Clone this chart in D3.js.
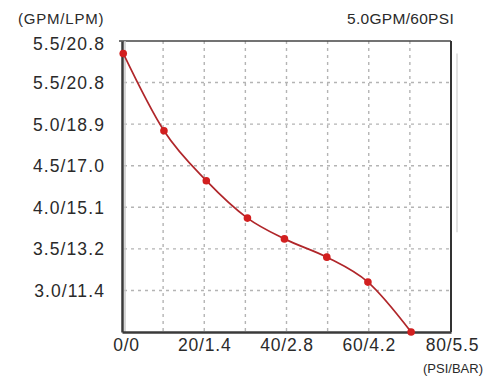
<!DOCTYPE html>
<html><head><meta charset="utf-8">
<script src="https://cdn.jsdelivr.net/npm/d3@7"></script>
<style>
html,body{margin:0;padding:0;background:#fff;}
svg{display:block;}
</style></head>
<body>
<svg id="c" width="486" height="379"></svg>
<script>
// Data
const psi = [0.3, 10.2, 20.5, 30.5, 39.5, 49.8, 59.8, 70.3];
const gpm = [5.85, 4.92, 4.32, 3.87, 3.62, 3.40, 3.10, 2.50];
const xTickValues = [0, 20, 40, 60, 80];
const xTickLabels = ["0/0", "20/1.4", "40/2.8", "60/4.2", "80/5.5"];
const yTickValues = [6.0, 5.5, 5.0, 4.5, 4.0, 3.5, 3.0];
const yTickLabels = ["5.5/20.8", "5.5/20.8", "5.0/18.9", "4.5/17.0", "4.0/15.1", "3.5/13.2", "3.0/11.4"];
const xGrid = [10, 20, 30, 40, 50, 60, 70];
const yGrid = [3.0, 3.5, 4.0, 4.5, 5.0, 5.5];

const svg = d3.select("#c");
const x = d3.scaleLinear().domain([0, 80]).range([122, 451]);
const y = d3.scaleLinear().domain([2.5, 6.0]).range([332, 41]);
const font = "Liberation Sans, Arial, sans-serif";

// grid
svg.append("g").selectAll("line").data(xGrid).join("line")
  .attr("x1", d => x(d)).attr("x2", d => x(d))
  .attr("y1", y(6.0)).attr("y2", y(2.5))
  .attr("stroke", "#b4b4b4").attr("stroke-width", 1.4).attr("stroke-dasharray", "3,4");
svg.append("g").selectAll("line").data(yGrid).join("line")
  .attr("x1", x(0) + 2).attr("x2", x(80))
  .attr("y1", d => y(d)).attr("y2", d => y(d))
  .attr("stroke", "#b4b4b4").attr("stroke-width", 1.4).attr("stroke-dasharray", "3,4");

// frame: top and right
svg.append("line").attr("x1", x(0) - 3).attr("x2", x(80)).attr("y1", y(6.0)).attr("y2", y(6.0))
  .attr("stroke", "#444").attr("stroke-width", 1.5);
svg.append("line").attr("x1", x(80)).attr("x2", x(80)).attr("y1", y(6.0)).attr("y2", y(2.5))
  .attr("stroke", "#333").attr("stroke-width", 2);
// faint shadow on right
svg.append("line").attr("x1", x(80) + 6).attr("x2", x(80) + 6).attr("y1", y(5.85)).attr("y2", y(3.7))
  .attr("stroke", "#e2e2e2").attr("stroke-width", 2);
// light inner line next to left axis
svg.append("line").attr("x1", x(0) + 3).attr("x2", x(0) + 3).attr("y1", y(6.0)).attr("y2", y(2.5))
  .attr("stroke", "#c8c8c8").attr("stroke-width", 1.5);

// axes
const xAxis = d3.axisBottom(x).tickValues(xTickValues).tickSize(0).tickPadding(7)
  .tickFormat((d, i) => xTickLabels[i]);
const gx = svg.append("g").attr("transform", `translate(0,${y(2.5)})`).call(xAxis);
gx.select(".domain").attr("stroke", "#3a3a3a").attr("stroke-width", 2.5);
gx.selectAll("text").attr("font-family", font).attr("font-size", 17.5).attr("fill", "#2a2a2a")
  .attr("letter-spacing", 0.8)
  .attr("dx", (d, i) => i === 0 ? 4 : (i === 4 ? 1 : 0));

const yAxis = d3.axisLeft(y).tickValues(yTickValues).tickSize(0).tickPadding(17)
  .tickFormat((d, i) => yTickLabels[i]);
const gy = svg.append("g").attr("transform", `translate(${x(0)},0)`).call(yAxis);
gy.select(".domain").attr("stroke", "#3a3a3a").attr("stroke-width", 2.5);
gy.selectAll("text").attr("font-family", font).attr("font-size", 17.5).attr("fill", "#2a2a2a")
  .attr("letter-spacing", 1.1)
  .attr("dy", (d, i) => i === 0 ? "0.5em" : "0.35em");

// line
const pts = psi.map((p, i) => [p, gpm[i]]);
const line = d3.line().x(d => x(d[0])).y(d => y(d[1])).curve(d3.curveMonotoneX);
svg.append("path").datum(pts).attr("d", line)
  .attr("fill", "none").attr("stroke", "#b0262a").attr("stroke-width", 1.7);
svg.append("g").selectAll("circle").data(pts).join("circle")
  .attr("cx", d => x(d[0])).attr("cy", d => y(d[1])).attr("r", 3.8)
  .attr("fill", "#d21f1f");

// titles
svg.append("text").attr("x", 18).attr("y", 24).attr("font-family", font).attr("font-size", 15)
  .attr("letter-spacing", 0.8).attr("fill", "#2a2a2a").text("(GPM/LPM)");
svg.append("text").attr("x", 454).attr("y", 24).attr("text-anchor", "end").attr("font-family", font)
  .attr("font-size", 15.5).attr("letter-spacing", 0.3).attr("fill", "#2a2a2a").text("5.0GPM/60PSI");
svg.append("text").attr("x", 483).attr("y", 373).attr("text-anchor", "end").attr("font-family", font)
  .attr("font-size", 13).attr("fill", "#2a2a2a").text("(PSI/BAR)");
</script>
</body></html>
